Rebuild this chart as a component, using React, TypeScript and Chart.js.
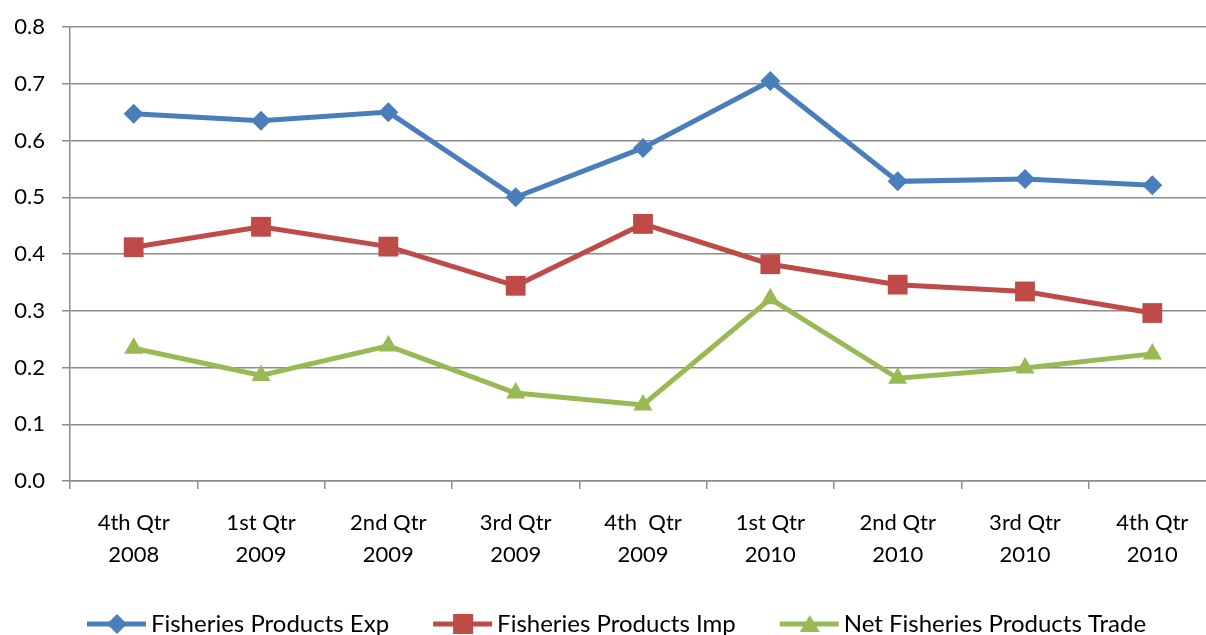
import React, { useEffect, useRef } from "react";
import { Chart, registerables } from "chart.js";

Chart.register(...registerables);

const categories: string[][] = [
  ["4th Qtr", "2008"],
  ["1st Qtr", "2009"],
  ["2nd Qtr", "2009"],
  ["3rd Qtr", "2009"],
  ["4th  Qtr", "2009"],
  ["1st Qtr", "2010"],
  ["2nd Qtr", "2010"],
  ["3rd Qtr", "2010"],
  ["4th Qtr", "2010"],
];

const exportsSeries = [0.647, 0.635, 0.65, 0.5, 0.587, 0.705, 0.528, 0.532, 0.521];
const importsSeries = [0.412, 0.448, 0.413, 0.344, 0.453, 0.382, 0.346, 0.334, 0.296];
const netSeries = [0.234, 0.186, 0.238, 0.155, 0.134, 0.321, 0.181, 0.199, 0.224];

const seriesNames = [
  "Fisheries Products Exp",
  "Fisheries Products Imp",
  "Net Fisheries Products Trade",
];

const yTicks = { min: 0, max: 0.8, step: 0.1 };

const BLUE = "#4A7EBB";
const RED = "#BE4B48";
const GREEN = "#98B954";
const GRID = "#8C8C8C";
const FONT = "Lato, 'Open Sans', sans-serif";

function legendImage(color: string, style: string): HTMLCanvasElement {
  const c = document.createElement("canvas");
  c.width = 72;
  c.height = 24;
  const ctx = c.getContext("2d")!;
  ctx.strokeStyle = color;
  ctx.lineWidth = 5;
  ctx.lineCap = "butt";
  ctx.beginPath();
  ctx.moveTo(12, 12);
  ctx.lineTo(71, 12);
  ctx.stroke();
  ctx.fillStyle = color;
  const cx = 42;
  const cy = 12;
  ctx.beginPath();
  if (style === "rectRot") {
    ctx.moveTo(cx - 10, cy);
    ctx.lineTo(cx, cy - 10);
    ctx.lineTo(cx + 10, cy);
    ctx.lineTo(cx, cy + 10);
  } else if (style === "rect") {
    ctx.rect(cx - 10, cy - 10, 20, 20);
  } else {
    ctx.moveTo(cx, cy - 9);
    ctx.lineTo(cx + 10, cy + 8);
    ctx.lineTo(cx - 10, cy + 8);
  }
  ctx.closePath();
  ctx.fill();
  return c;
}

export default function App() {
  const ref = useRef<HTMLCanvasElement | null>(null);

  useEffect(() => {
    if (!ref.current) return;
    const colors = [BLUE, RED, GREEN];
    const styles = ["rectRot", "rect", "triangle"];
    const images = colors.map((c, i) => legendImage(c, styles[i]));

    const chart = new Chart(ref.current, {
      type: "line",
      data: {
        labels: categories,
        datasets: [
          {
            label: seriesNames[0],
            data: exportsSeries,
            borderColor: BLUE,
            backgroundColor: BLUE,
            borderWidth: 5,
            pointStyle: "rectRot",
            pointRadius: 10,
            pointBorderWidth: 0,
            tension: 0,
          },
          {
            label: seriesNames[1],
            data: importsSeries,
            borderColor: RED,
            backgroundColor: RED,
            borderWidth: 5,
            pointStyle: "rect",
            pointRadius: 14,
            pointBorderWidth: 0,
            tension: 0,
          },
          {
            label: seriesNames[2],
            data: netSeries,
            borderColor: GREEN,
            backgroundColor: GREEN,
            borderWidth: 5,
            pointStyle: "triangle",
            pointRadius: 11,
            pointBorderWidth: 0,
            tension: 0,
          },
        ],
      },
      options: {
        animation: false,
        responsive: false,
        layout: { padding: { top: 27, left: 0, right: 1, bottom: 0 } },
        plugins: {
          tooltip: { enabled: false },
          legend: {
            position: "bottom",
            labels: {
              usePointStyle: true,
              pointStyleWidth: 56,
              padding: 40,
              color: "#000",
              font: { family: FONT, size: 24 },
              generateLabels: (ch: any) =>
                ch.data.datasets.map((ds: any, i: number) => ({
                  text: ds.label,
                  pointStyle: images[i],
                  fillStyle: colors[i],
                  strokeStyle: colors[i],
                  lineWidth: 0,
                  hidden: false,
                  datasetIndex: i,
                  fontColor: "#000",
                })),
            },
          },
        },
        scales: {
          x: {
            type: "category",
            offset: true,
            afterFit: (s: any) => {
              s.height = 91;
              s.paddingTop = 0;
              s.paddingBottom = 0;
            },
            grid: {
              drawOnChartArea: false,
              drawTicks: true,
              tickLength: 8,
              offset: true,
              color: GRID,
              lineWidth: 1.5,
            },
            border: { display: true, color: GRID, width: 1.5 },
            ticks: {
              color: "#000",
              font: { family: FONT, size: 22, lineHeight: 1.45 },
              padding: 18,
              maxRotation: 0,
              autoSkip: false,
            },
          },
          y: {
            min: yTicks.min,
            max: yTicks.max,
            afterFit: (s: any) => {
              s.width = 70;
              s.paddingTop = 0;
              s.paddingBottom = 0;
            },
            grid: {
              color: GRID,
              lineWidth: 1.5,
              tickLength: 8,
              drawTicks: true,
            },
            border: { display: true, color: GRID, width: 1.5 },
            ticks: {
              stepSize: yTicks.step,
              color: "#000",
              font: { family: FONT, size: 22 },
              padding: 17,
              callback: (v: any) => Number(v).toFixed(1),
            },
          },
        },
      },
    });
    return () => chart.destroy();
  }, []);

  return (
    <div
      style={{
        position: "absolute",
        left: 0,
        top: 0,
        width: 1206,
        height: 635,
        overflow: "hidden",
        background: "#fff",
      }}
    >
      <canvas ref={ref} width={1230} height={646} style={{ display: "block" }} />
    </div>
  );
}
